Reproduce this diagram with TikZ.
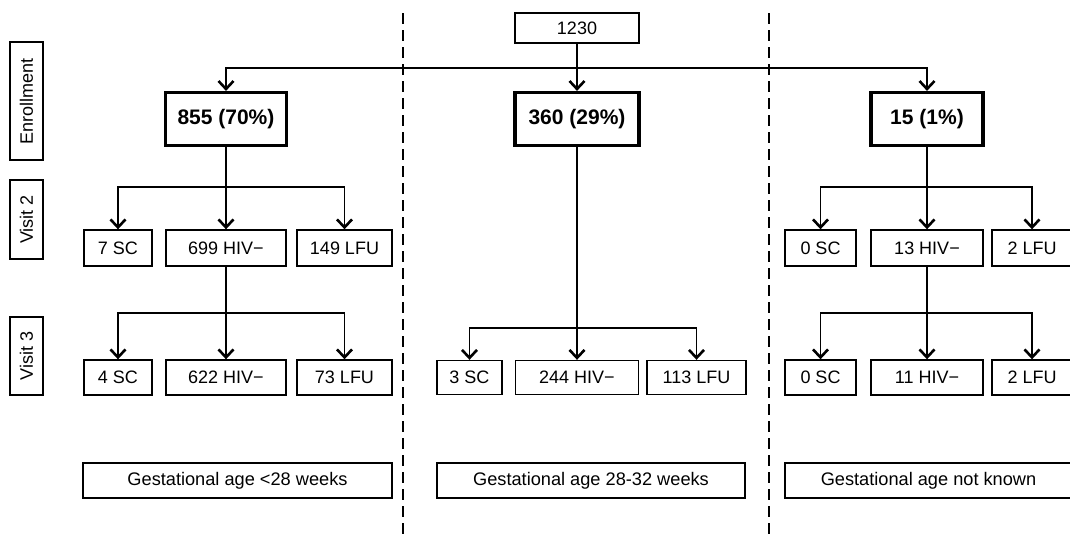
\documentclass[tikz,border=0pt]{standalone}
\usepackage{fontspec}
\setmainfont{Liberation Sans}
\usetikzlibrary{arrows.meta}
\begin{document}
\begin{tikzpicture}[x=1pt,y=-1pt,
  box/.style={draw, line width=1.4pt, inner sep=0pt, font=\fontsize{18}{21}\selectfont},
  gbox/.style={box, font=\fontsize{18.2}{21}\selectfont},
  bbox/.style={draw, line width=3.2pt, inner sep=0pt, font=\fontsize{21}{24}\selectfont\bfseries},
  lab/.style={draw, line width=1.4pt, inner sep=0pt, rotate=90, font=\fontsize{18}{21}\selectfont},
  conn/.style={line width=1.5pt},
  arr/.style={line width=1.5pt, -{Straight Barb[length=8pt,width=15pt,line width=2.6pt]}},
  sep/.style={line width=1.3pt, dash pattern=on 11pt off 6pt}
]
\useasboundingbox (0,0) rectangle (1070,539);
\clip (0,0) rectangle (1070,539);

% side labels
\node[lab, minimum width=118, minimum height=33] (enr) at (26.5,101) {Enrollment};
\node[lab, minimum width=79, minimum height=33] (v2) at (26.5,219.5) {Visit 2};
\node[lab, minimum width=78, minimum height=33] (v3) at (26.5,356) {Visit 3};

% separators
\draw[sep] (403,13) -- (403,539);
\draw[sep] (769,13) -- (769,539);

% top
\node[box, minimum width=124, minimum height=30] (top) at (577,28) {1230};

% enrollment
\node[bbox, minimum width=121, minimum height=53] (a) at (226,119) {855 (70\%)};
\node[bbox, minimum width=124, minimum height=53] (b) at (577,119) {360 (29\%)};
\node[bbox, minimum width=112, minimum height=53] (c) at (927,119) {15 (1\%)};

\coordinate (j0) at (577,68);
\draw[conn] (top.south) -- (j0);
\draw[arr] (j0) -| (a.north);
\draw[arr] (j0) -- (b.north);
\draw[arr] (j0) -| (c.north);

% visit 2 left
\node[box, minimum width=68, minimum height=36] (a1) at (118,248) {7 SC};
\node[box, minimum width=120, minimum height=36] (a2) at (226,248) {699 HIV\textminus};
\node[box, minimum width=95, minimum height=36] (a3) at (344.5,248) {149 LFU};
\coordinate (ja) at (226,187);
\draw[conn] (a.south) -- (ja);
\draw[arr] (ja) -| (a1.north);
\draw[arr] (ja) -- (a2.north);
\draw[arr] (ja) -| (a3.north);

% visit 3 left
\node[box, minimum width=68, minimum height=35] (a4) at (118,377.5) {4 SC};
\node[box, minimum width=120, minimum height=35] (a5) at (226,377.5) {622 HIV\textminus};
\node[box, minimum width=95, minimum height=35] (a6) at (344.5,377.5) {73 LFU};
\coordinate (jb) at (226,313);
\draw[conn] (a2.south) -- (jb);
\draw[arr] (jb) -| (a4.north);
\draw[arr] (jb) -- (a5.north);
\draw[arr] (jb) -| (a6.north);

% middle
\node[box, minimum width=65, minimum height=34] (b1) at (469.5,377.5) {3 SC};
\node[box, minimum width=123, minimum height=34] (b2) at (577,377.5) {244 HIV\textminus};
\node[box, minimum width=99, minimum height=34] (b3) at (696.5,377.5) {113 LFU};
\coordinate (jc) at (577,328);
\draw[conn] (b.south) -- (jc);
\draw[arr] (jc) -| (b1.north);
\draw[arr] (jc) -- (b2.north);
\draw[arr] (jc) -| (b3.north);

% visit 2 right
\node[box, minimum width=71, minimum height=36] (c1) at (820.5,248) {0 SC};
\node[box, minimum width=112, minimum height=36] (c2) at (927,248) {13 HIV\textminus};
\node[box, minimum width=80, minimum height=36] (c3) at (1032,248) {2 LFU};
\coordinate (jd) at (927,187);
\draw[conn] (c.south) -- (jd);
\draw[arr] (jd) -| (c1.north);
\draw[arr] (jd) -- (c2.north);
\draw[arr] (jd) -| (c3.north);

% visit 3 right
\node[box, minimum width=71, minimum height=35] (c4) at (820.5,377.5) {0 SC};
\node[box, minimum width=112, minimum height=35] (c5) at (927,377.5) {11 HIV\textminus};
\node[box, minimum width=80, minimum height=35] (c6) at (1032,377.5) {2 LFU};
\coordinate (je) at (927,313);
\draw[conn] (c2.south) -- (je);
\draw[arr] (je) -| (c4.north);
\draw[arr] (je) -- (c5.north);
\draw[arr] (je) -| (c6.north);

% gestational
\node[gbox, minimum width=309, minimum height=35] (g1) at (237.5,480.5) {Gestational age <28 weeks};
\node[gbox, minimum width=308, minimum height=35] (g2) at (591,480.5) {Gestational age 28-32 weeks};
\node[gbox, minimum width=287, minimum height=35] (g3) at (928.5,480.5) {Gestational age not known};
\end{tikzpicture}
\end{document}
